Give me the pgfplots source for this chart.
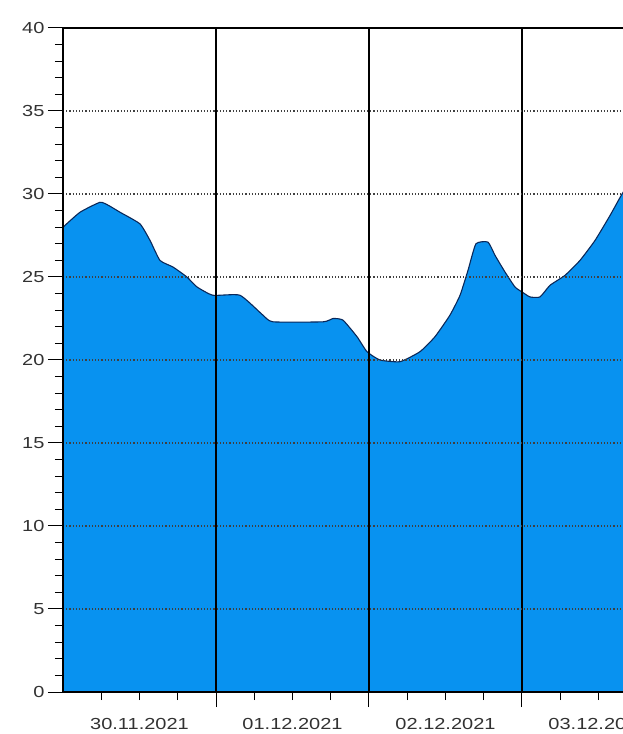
\documentclass[border=0pt]{standalone}
\usepackage{pgfplots}
\pgfplotsset{compat=1.18}
\usepackage{fontspec}
\setmainfont{Liberation Sans}[FakeStretch=1.25]
\definecolor{areablue}{RGB}{8,146,240}
\definecolor{edgeblue}{RGB}{10,40,90}
\definecolor{labgray}{RGB}{50,50,50}

\begin{document}
\begin{tikzpicture}
\useasboundingbox (0,0) rectangle (622pt,734pt);
\begin{axis}[
    at={(63pt,42pt)}, anchor=south west,
    scale only axis,
    width=600pt, height=664pt,
    xmin=0, xmax=3.9216,
    ymin=0, ymax=40,
    axis on top,
    tick align=outside,
    xtick pos=left, ytick pos=left,
    xtick={1,2,3}, xticklabels={},
    minor xtick={0.25,0.5,0.75,1.25,1.5,1.75,2.25,2.5,2.75,3.25,3.5,3.75},
    ytick={0,5,...,40},
    minor ytick={1,2,3,4,6,7,8,9,11,12,13,14,16,17,18,19,21,22,23,24,26,27,28,29,31,32,33,34,36,37,38,39},
    major tick length=15pt,
    minor tick length=8pt,
    xmajorgrids, ymajorgrids,
    x grid style={black, line width=1.3pt, solid},
    y grid style={black!75, line width=1.2pt, dotted},
    axis line style={black, line width=1.3pt},
    every tick/.style={black, line width=1pt},
    tick label style={font=\fontsize{16}{19}\selectfont, text=labgray},
    /pgf/number format/assume math mode=true,
    extra x ticks={0.5,1.5,2.5,3.5},
    extra x tick labels={30.11.2021,01.12.2021,02.12.2021,03.12.2021},
    extra x tick style={major tick length=0pt, xmajorgrids=false,
        tick label style={yshift=-23pt}},
]
\addplot[fill=areablue, draw=edgeblue, line width=1.1pt, smooth, tension=0.3] coordinates {
(0.000,28.0) (0.111,28.9) (0.242,29.5) (0.300,29.3) (0.373,28.9)
(0.503,28.2) (0.569,27.2) (0.634,26.0) (0.719,25.6) (0.810,25.0)
(0.876,24.4) (0.980,23.9) (1.157,23.9) (1.307,22.7) (1.373,22.3)
(1.700,22.3) (1.765,22.5) (1.830,22.4) (1.922,21.4) (1.987,20.5)
(2.072,20.0) (2.203,19.9) (2.333,20.5) (2.431,21.4) (2.529,22.7)
(2.595,23.9) (2.647,25.4) (2.699,27.0) (2.778,27.1) (2.824,26.3)
(2.889,25.3) (2.954,24.4) (3.000,24.1) (3.052,23.8) (3.118,23.8)
(3.183,24.5) (3.281,25.1) (3.379,26.0) (3.477,27.2) (3.575,28.7)
(3.654,30.0) (3.739,31.2)
} \closedcycle;
\end{axis}
\end{tikzpicture}
\end{document}
